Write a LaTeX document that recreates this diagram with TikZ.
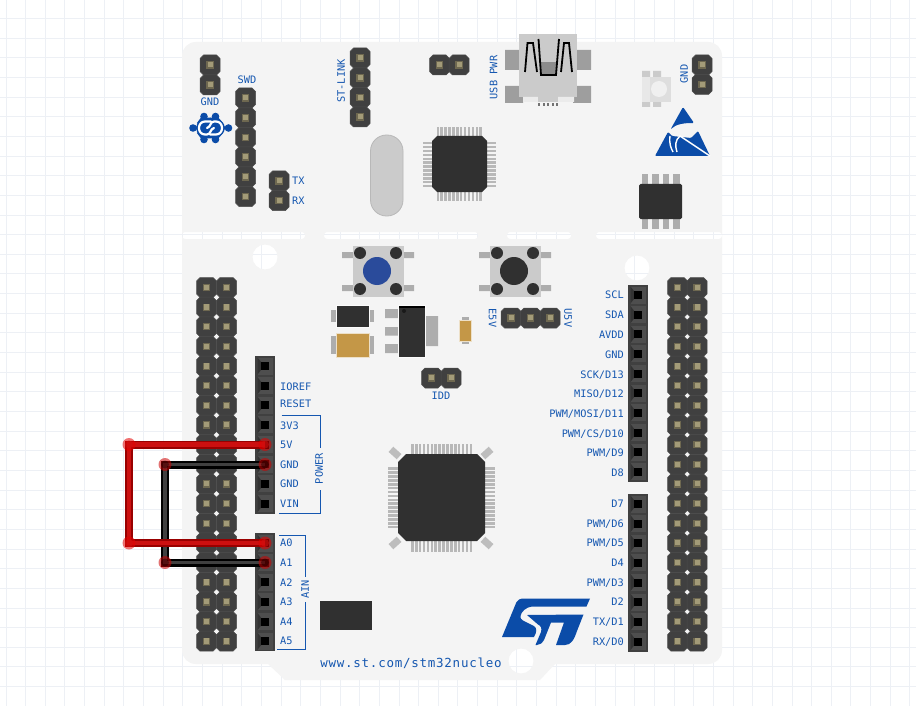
\documentclass[tikz,border=0pt]{standalone}
\usepackage{fontspec}
\newfontfamily\labf{DejaVu Sans Mono}
\newfontfamily\webf[LetterSpace=6]{DejaVu Sans Mono}
\definecolor{gridc}{HTML}{EDF0F5}
\definecolor{boardc}{HTML}{F4F4F4}
\definecolor{pinc}{HTML}{404040}
\definecolor{pinl}{HTML}{4E4E4E}
\definecolor{padd}{HTML}{6E6850}
\definecolor{padl}{HTML}{A39B78}
\definecolor{chipc}{HTML}{303030}
\definecolor{legc}{HTML}{ADADAD}
\definecolor{lightc}{HTML}{CBCBCB}
\definecolor{tanc}{HTML}{C49747}
\definecolor{txtc}{HTML}{1557B0}
\definecolor{logoc}{HTML}{0B4CA8}
\definecolor{redd}{HTML}{990000}
\definecolor{redl}{HTML}{CC1010}
\definecolor{btnblue}{HTML}{2A4B9B}
\tikzset{
  x=1pt,y=-1pt,
  lab/.style={font=\labf\fontsize{10.3}{10.3}\selectfont,text=txtc,inner sep=0pt,text height=7.5pt,text depth=0pt},
  labw/.style={lab,anchor=west},
  labe/.style={lab,anchor=east},
  bracket/.style={draw=txtc,line width=1pt},
  hp/.pic={
    \fill[pinc,draw=pinl,line width=0.5pt] (-10,-6.5)--(-6.5,-10)--(6.5,-10)--(10,-6.5)--(10,6.5)--(6.5,10)--(-6.5,10)--(-10,6.5)--cycle;
    \fill[padd] (-3.6,-3.6) rectangle (3.6,3.6);
    \fill[padl] (-2.4,-2.8) rectangle (2.8,2.4);
  },
  fp/.pic={
    \fill[pinl] (-7.5,-8.5) rectangle (7.5,8.5);
    \fill[black!80] (-7.5,-8.5)--(-4,-4)--(-4,4)--(-7.5,8.5)--cycle;
    \fill[black] (-4,-4) rectangle (4,4);
  },
  wred/.style={draw=redd,line width=8pt,line join=miter},
  wredin/.style={draw=redl,line width=4.5pt,line join=miter},
  wblk/.style={draw=black,line width=8pt,line join=miter},
  wblkin/.style={draw=pinc,line width=3.5pt,line join=miter}
}
\begin{document}
\begin{tikzpicture}
\useasboundingbox (0,0) rectangle (916,706);
\fill[white] (0,0) rectangle (916,706);
% grid
\begin{scope}[gridc,line width=1pt]
\foreach \k in {0,...,46} \draw ({6+19.65*\k},0) -- ({6+19.65*\k},706);
\foreach \k in {0,...,35} \draw (0,{18.5+19.65*\k}) -- (916,{18.5+19.65*\k});
\end{scope}
% board
\fill[boardc,even odd rule]
  (196,42) -- (708,42) .. controls (716,42) and (722,48) .. (722,56) -- (722,650) .. controls (722,658) and (716,664) .. (708,664)
  -- (555,664) -- (540,680) -- (285,680) -- (268,664) -- (196,664) .. controls (188,664) and (182,658) .. (182,650) -- (182,56) .. controls (182,48) and (188,42) .. (196,42) -- cycle
  [rounded corners=3] (182,232) rectangle (305,239) (324,232) rectangle (478,239) (507,232) rectangle (571,239) (596,232) rectangle (722,239)
  [sharp corners] (265,257) circle[radius=12.5] (637,268) circle[radius=12.5] (521,661) circle[radius=12.5];
% morpho headers
\foreach \k in {0,...,18} {
  \pic at (206.5,{287.5+19.65*\k}) {hp};
  \pic at (226.5,{287.5+19.65*\k}) {hp};
  \pic at (677.5,{287.5+19.65*\k}) {hp};
  \pic at (697,{287.5+19.65*\k}) {hp};
}
% small headers
\foreach \y in {65,85} \pic at (210,\y) {hp};
\foreach \y in {98,118,137.5,157,177,196.5} \pic at (245.5,\y) {hp};
\foreach \y in {181,200.5} \pic at (279,\y) {hp};
\foreach \y in {58,78,97.5,117} \pic at (360,\y) {hp};
\foreach \x in {439.5,459} \pic at (\x,65) {hp};
\foreach \y in {65,84.5} \pic at (702,\y) {hp};
\foreach \x in {511,530.5,550} \pic at (\x,318) {hp};
\foreach \x in {431.5,451} \pic at (\x,378) {hp};
% female headers
\fill[pinc] (255,356) rectangle (275,513.5);
\foreach \k in {0,...,7} \pic at (265,{366+19.65*\k}) {fp};
\fill[pinc] (255,533) rectangle (275,651);
\foreach \k in {0,...,5} \pic at (265,{543+19.65*\k}) {fp};
\fill[pinc] (628,285) rectangle (648,482);
\foreach \k in {0,...,9} \pic at (638,{295+19.65*\k}) {fp};
\fill[pinc] (628,494) rectangle (648,652);
\foreach \k in {0,...,7} \pic at (638,{504+19.65*\k}) {fp};
% crystal
\draw[fill=lightc,draw=black!28,line width=0.8pt,rounded corners=16pt] (370.5,135) rectangle (403,216);
% small MCU
\foreach \k in {0,...,11} {
  \fill[black!28] ({436.5+3.9*\k},127) rectangle ({439+3.9*\k},201);
  \fill[black!28] (423,{142+3.9*\k}) rectangle (496,{144.5+3.9*\k});
}
\fill[chipc] (437,136) -- (482,136) -- (487,141) -- (487,187) -- (482,192) -- (437,192) -- (432,187) -- (432,141) -- cycle;
% USB
\fill[black!38] (505,50) rectangle (519,70) (577,50) rectangle (591,70) (505,86) rectangle (523,103) (573,86) rectangle (591,103);
\foreach \k in {0,...,4} \fill[black!55] ({538+4.6*\k},103) rectangle ({540+4.6*\k},106);
\fill[lightc] (519,34) rectangle (577,97);
\fill[black!8] (523,97) rectangle (538,102) (558,97) rectangle (574,102);
\fill[lightc] (538,97) rectangle (558,102);
\fill[black!45] (541,62) rectangle (556,75);
\draw[black,line width=1.8pt] (525,72) -- (527.5,43) -- (533,43) -- (537,72);
\draw[black,line width=1.8pt] (561,72) -- (564,43) -- (569,43) -- (572,72);
\draw[black,line width=1.8pt] (538.5,39) -- (541,75) -- (556,75) -- (559,39);
% LED
\fill[lightc] (642,71) rectangle (650,77) (653,71) rectangle (661,77) (642,102) rectangle (650,107) (653,102) rectangle (661,107);
\fill[black!13] (642,77) rectangle (671,102);
\fill[black!9] (642,77) rectangle (650,102);
\fill[black!6] (659,89) circle[radius=8];
% ESD logo
\fill[logoc,rounded corners=1.2pt] (683,107) -- (694,123) .. controls (684,123) and (676,124) .. (670.5,129.5) -- cycle;
\fill[logoc,rounded corners=1pt] (655,156) -- (668,132) -- (672,136) -- (691,138) -- (698,131) -- (710,156) -- cycle;
\draw[white,line width=1.4pt] (670,136) .. controls (669,144) and (671,148) .. (673,152);
\draw[white,line width=1.4pt] (677,152) .. controls (675,146) and (675,140) .. (680,136) -- (710,156);
% SOIC
\foreach \x in {645,655.5,666,676.5} \fill[legc] (\x-3.2,174) rectangle (\x+3.2,229);
\fill[chipc,rounded corners=1.5pt] (639,184) rectangle (682,219);
% buttons
\foreach \dx in {0,137} {
  \begin{scope}[xshift=\dx]
  \fill[legc] (342,252) rectangle (414,258) (342,285) rectangle (414,291);
  \fill[lightc] (353,246) rectangle (403.5,297);
  \foreach \a/\b in {360/253,396/253,360/289,396/289} \fill[chipc] (\a,\b) circle[radius=6];
  \end{scope}
}
\fill[btnblue] (377,271) circle[radius=14];
\fill[chipc] (514,271) circle[radius=14];
% power parts
\fill[legc] (331,310) rectangle (374,322);
\fill[chipc,draw=white!60!boardc,line width=0.6pt] (336,305) rectangle (369,327);
\fill[legc] (331,336) rectangle (374,354);
\fill[tanc,draw=white!70!tanc,line width=0.6pt] (336,333) rectangle (369,357);
\fill[legc] (385,309) rectangle (398,318) (385,327) rectangle (398,335.5) (385,344) rectangle (398,353) (425,316) rectangle (438,346);
\fill[chipc,draw=white!60!boardc,line width=0.6pt] (398,305) rectangle (425.5,357);
\fill[black] (398.5,305.5) rectangle (425,307.5);
\fill[black!90] (404,311) circle[radius=2];
\fill[legc] (462,317) rectangle (469,344);
\fill[tanc,draw=white!70!tanc,line width=0.5pt] (459.5,320) rectangle (471,341);
% big MCU
\foreach \k in {0,...,15} {
  \fill[black!28] ({411+3.9*\k},444) rectangle ({413.6+3.9*\k},551.5);
  \fill[black!28] (388,{467.3+3.9*\k}) rectangle (495,{469.9+3.9*\k});
}
\fill[chipc] (406,454) -- (477,454) -- (485,462) -- (485,533) -- (477,541) -- (406,541) -- (398,533) -- (398,462) -- cycle;
\foreach \a/\b/\r in {395/453/-42,487/453/42,395/543/42,487/543/-42}
  \fill[black!26,rotate around={\r:(\a,\b)}] (\a-5.5,\b-3.5) rectangle (\a+5.5,\b+3.5);
% chip near A5
\fill[chipc] (320,601) rectangle (372,630);
% board logo
\begin{scope}[logoc]
\foreach \a/\b in {204/116.5,215.5/116.5,193/128,228.5/128,204/139.5,215.5/139.5} \fill (\a,\b) circle[radius=3.8];
\draw[line width=3pt] (204,116) -- (198,124) (215,116) -- (222,124) (204,140) -- (198,132) (215,140) -- (222,132) (193,128) -- (228.5,128);
\fill (210.5,128) ellipse[x radius=14.5,y radius=10.5];
\end{scope}
\draw[white,line width=2.2pt,line cap=round] (211,121.5) -- (205,121.5) .. controls (197,121.5) and (197,134.5) .. (205,134.5) -- (207,134.5) .. controls (211,134.5) and (210,129) .. (214,128);
\draw[white,line width=2.2pt,line cap=round] (210,134.5) -- (216,134.5) .. controls (224,134.5) and (224,121.5) .. (216,121.5) -- (214,121.5) .. controls (210,121.5) and (211,127) .. (207,128);
% ST logo
\fill[logoc] (502,637) -- (516.5,602) .. controls (517.5,600) and (520,598.5) .. (524,598.5) -- (590,598.5) -- (586.5,606.5) -- (532,606.5) .. controls (526,607) and (521,612) .. (520.5,616) .. controls (520,618) and (521,619.5) .. (523,620.5) -- (534,626) .. controls (537,628) and (537,632) .. (534,637) -- cycle;
\fill[logoc] (527,615) -- (583.5,614.5) -- (577,631) .. controls (574,640) and (571,645) .. (565,645) -- (556,645) -- (564,622.5) -- (551,622.5) -- (544,640) .. controls (542,643) and (540,645) .. (537,645) -- (535.5,645) -- (541,632) .. controls (542,628) and (541,626) .. (538,624.5) -- cycle;
% labels
\node[lab] (tGNDa) at (210,102) {GND};
\node[lab] (tSWD) at (247,79.5) {SWD};
\node[labw] (tTX) at (292,180.5) {TX};
\node[labw] (tRX) at (292,200.5) {RX};
\node[lab,rotate=90] (tST) at (341,81) {ST-LINK};
\node[lab,rotate=90] (tUSB) at (493.5,77.5) {USB PWR};
\node[lab,rotate=90] (tGNDb) at (684,74) {GND};
\node[lab,rotate=-90] (tE5V) at (492.5,318) {E5V};
\node[lab,rotate=-90] (tU5V) at (568,318) {U5V};
\node[lab] (tIDD) at (441,396) {IDD};
\foreach \t/\y [count=\i] in {IOREF/387,RESET/403.5,3V3/425.5,5V/445,GND/464.5,GND/484,VIN/504,A0/543,A1/563,A2/582.5,A3/602,A4/621.5,A5/641}
  \node[labw] (l\i) at (280,\y) {\t};
\foreach \t/\y [count=\i] in {SCL/295,SDA/315,AVDD/334.5,GND/355,SCK{/}D13/374.5,MISO{/}D12/394,PWM{/}MOSI{/}D11/414,PWM{/}CS{/}D10/433.5,PWM{/}D9/453,D8/472.5,D7/504,PWM{/}D6/523.5,PWM{/}D5/543,D4/563,PWM{/}D3/582.5,D2/602,TX{/}D1/622,RX{/}D0/641.5}
  \node[labe] (r\i) at (624,\y) {\t};
\node[lab,rotate=90] (tPOWER) at (319,468.5) {POWER};
\node[lab,rotate=90] (tAIN) at (305,589.5) {AIN};
\node[font=\webf\fontsize{12.5}{12.5}\selectfont,text=txtc,inner sep=0pt,text height=9pt,text depth=0pt] (tWEB) at (411,663) {www.st.com/stm32nucleo};
% brackets
\draw[bracket] (281.5,415) -- (320,415) -- (320,448);
\draw[bracket] (320,490) -- (320,513) -- (279,513);
\draw[bracket] (279,535) -- (305,535) -- (305,577);
\draw[bracket] (305,602) -- (305,649) -- (277,649);
% wires
\coordinate (p5V) at (265,444.5);
\coordinate (pGND) at (265,464.5);
\coordinate (pA0) at (265,543);
\coordinate (pA1) at (265,562.5);
\coordinate (c1) at (129,444.5);
\coordinate (c2) at (129,543);
\coordinate (k1) at (165,464.5);
\coordinate (k2) at (165,562.5);
\draw[wblk] (pGND) -- (k1) -- (k2) -- (pA1);
\draw[wblkin] (pGND) -- (k1) -- (k2) -- (pA1);
\draw[wred] (p5V) -- (c1) -- (c2) -- (pA0);
\draw[wredin] (p5V) -- (c1) -- (c2) -- (pA0);
\foreach \c in {p5V,pA0,c1,c2} {\fill[red!90!black,fill opacity=0.55] (\c) circle[radius=6.5];\fill[redl,fill opacity=0.6] (\c) circle[radius=4];}
\foreach \c in {pGND,pA1,k1,k2} {\fill[red!80!black,fill opacity=0.55] (\c) circle[radius=6.5];\fill[black,fill opacity=0.4] (\c) circle[radius=4];}
\end{tikzpicture}
\end{document}
